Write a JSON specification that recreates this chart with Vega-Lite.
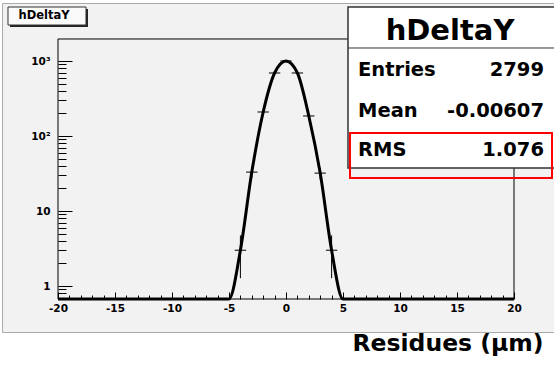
{
  "$schema": "https://vega.github.io/schema/vega-lite/v6.json",
  "width": 552,
  "height": 329,
  "autosize": {"type": "none"},
  "padding": {"left": 2, "top": 3, "right": 0, "bottom": 38},
  "background": "white",
  "config": {
    "view": {"fill": "#f2f2f2", "stroke": "#aaaaaa", "strokeWidth": 1},
    "text": {"font": "DejaVu Sans", "fontWeight": "bold", "color": "black"}
  },
  "resolve": {"axis": {"x": "independent", "y": "independent"}},
  "data": {
    "values": [
      {"x": -20, "count": 0}, {"x": -19, "count": 0}, {"x": -18, "count": 0}, {"x": -17, "count": 0},
      {"x": -16, "count": 0}, {"x": -15, "count": 0}, {"x": -14, "count": 0}, {"x": -13, "count": 0},
      {"x": -12, "count": 0}, {"x": -11, "count": 0}, {"x": -10, "count": 0}, {"x": -9, "count": 0},
      {"x": -8, "count": 0}, {"x": -7, "count": 0}, {"x": -6, "count": 0}, {"x": -5, "count": 0},
      {"x": -4, "x0": -4.5, "x1": -3.5, "count": 3, "lo": 1.27, "hi": 4.73},
      {"x": -3, "x0": -3.5, "x1": -2.5, "count": 33, "lo": 27.3, "hi": 38.7},
      {"x": -2, "x0": -2.5, "x1": -1.5, "count": 209, "lo": 194.5, "hi": 223.5},
      {"x": -1, "x0": -1.5, "x1": -0.5, "count": 692, "lo": 666, "hi": 718},
      {"x": 0, "x0": -0.5, "x1": 0.5, "count": 1000, "lo": 968, "hi": 1032},
      {"x": 1, "x0": 0.5, "x1": 1.5, "count": 692, "lo": 666, "hi": 718},
      {"x": 2, "x0": 1.5, "x1": 2.5, "count": 185, "lo": 171.4, "hi": 198.6},
      {"x": 3, "x0": 2.5, "x1": 3.5, "count": 32, "lo": 26.3, "hi": 37.7},
      {"x": 4, "x0": 3.5, "x1": 4.5, "count": 3, "lo": 1.27, "hi": 4.73},
      {"x": 5, "count": 0}, {"x": 6, "count": 0}, {"x": 7, "count": 0}, {"x": 8, "count": 0},
      {"x": 9, "count": 0}, {"x": 10, "count": 0}, {"x": 11, "count": 0}, {"x": 12, "count": 0},
      {"x": 13, "count": 0}, {"x": 14, "count": 0}, {"x": 15, "count": 0}, {"x": 16, "count": 0},
      {"x": 17, "count": 0}, {"x": 18, "count": 0}, {"x": 19, "count": 0}, {"x": 20, "count": 0}
    ]
  },
  "layer": [
    {
      "mark": {"type": "line", "interpolate": "monotone", "stroke": "black", "strokeWidth": 3, "invalid": "show"},
      "encoding": {
        "x": {
          "field": "x", "type": "quantitative",
          "scale": {"domain": [-20, 20], "range": [56, 512], "nice": false, "zero": false},
          "axis": {
            "orient": "bottom", "offset": -33,
            "values": [-20,-19,-18,-17,-16,-15,-14,-13,-12,-11,-10,-9,-8,-7,-6,-5,-4,-3,-2,-1,0,1,2,3,4,5,6,7,8,9,10,11,12,13,14,15,16,17,18,19,20],
            "labelExpr": "datum.value % 5 === 0 ? '' + datum.value : ''",
            "tickSize": {"condition": {"test": "datum.value % 5 === 0", "value": -7}, "value": -4},
            "tickColor": "black", "tickWidth": 1, "domain": false, "grid": false,
            "labelFont": "DejaVu Sans", "labelFontWeight": "bold", "labelFontSize": 10.5, "labelColor": "black",
            "labelPadding": 11, "labelFlush": false, "labelOverlap": false, "labelBound": false,
            "title": "Residues (µm)", "titleFont": "DejaVu Sans", "titleFontWeight": "bold", "titleFontSize": 23.5,
            "titleColor": "black", "titleX": 350, "titleY": 51, "titleAlign": "left", "titleBaseline": "alphabetic"
          }
        },
        "y": {
          "field": "count", "type": "quantitative",
          "scale": {"type": "log", "domain": [0.671, 5934], "range": [296, 0], "nice": false, "clamp": true},
          "axis": {
            "orient": "left", "offset": -56,
            "values": [0.7,0.8,0.9,1,2,3,4,5,6,7,8,9,10,20,30,40,50,60,70,80,90,100,200,300,400,500,600,700,800,900,1000],
            "labelExpr": "datum.value === 1 ? '1' : datum.value === 10 ? '10' : datum.value === 100 ? '10²' : datum.value === 1000 ? '10³' : ''",
            "tickSize": {"condition": {"test": "datum.value === 1 || datum.value === 10 || datum.value === 100 || datum.value === 1000", "value": -14}, "value": -8},
            "tickColor": "black", "tickWidth": 1, "domain": false, "grid": false,
            "labelFont": "DejaVu Sans", "labelFontWeight": "bold", "labelFontSize": 10.5, "labelColor": "black",
            "labelPadding": 22, "labelFlush": false, "labelOverlap": false, "labelBound": false,
            "title": null
          }
        }
      }
    },
    {
      "data": {"values": [{}]},
      "mark": {"type": "rect", "fillOpacity": 0, "stroke": "black", "strokeWidth": 1},
      "encoding": {
        "x": {"datum": -20, "type": "quantitative", "axis": null},
        "x2": {"datum": 20},
        "y": {"datum": 0.671, "type": "quantitative", "axis": null},
        "y2": {"datum": 1965}
      }
    },
    {
      "transform": [{"filter": "datum.count > 0"}],
      "mark": {"type": "rule", "stroke": "black", "strokeWidth": 1},
      "encoding": {
        "x": {"field": "x0", "type": "quantitative", "axis": null},
        "x2": {"field": "x1"},
        "y": {"field": "count", "type": "quantitative", "axis": null}
      }
    },
    {
      "transform": [{"filter": "datum.count > 0"}],
      "mark": {"type": "rule", "stroke": "black", "strokeWidth": 1},
      "encoding": {
        "x": {"field": "x", "type": "quantitative", "axis": null},
        "y": {"field": "lo", "type": "quantitative", "axis": null},
        "y2": {"field": "hi"}
      }
    },
    {
      "data": {"values": [{}]},
      "mark": {"type": "rect", "fill": "#222222"},
      "encoding": {
        "x": {"datum": -24.21, "type": "quantitative", "axis": null},
        "x2": {"datum": -17.37},
        "y": {"datum": 4935, "type": "quantitative", "axis": null},
        "y2": {"datum": 2840}
      }
    },
    {
      "data": {"values": [{}]},
      "mark": {"type": "rect", "fill": "#fafafa", "stroke": "#333333", "strokeWidth": 1},
      "encoding": {
        "x": {"datum": -24.386, "type": "quantitative", "axis": null},
        "x2": {"datum": -17.544},
        "y": {"datum": 5248, "type": "quantitative", "axis": null},
        "y2": {"datum": 3020}
      }
    },
    {
      "data": {"values": [{}]},
      "mark": {"type": "text", "fontSize": 11.5, "align": "center", "baseline": "middle"},
      "encoding": {
        "x": {"datum": -21.23, "type": "quantitative", "axis": null},
        "y": {"datum": 3981, "type": "quantitative", "axis": null},
        "text": {"value": "hDeltaY"}
      }
    },
    {
      "data": {"values": [{}]},
      "mark": {"type": "rect", "fill": "white", "stroke": "#333333", "strokeWidth": 1.5},
      "encoding": {
        "x": {"datum": 5.439, "type": "quantitative", "axis": null},
        "x2": {"datum": 24.04},
        "y": {"datum": 5248, "type": "quantitative", "axis": null},
        "y2": {"datum": 37.44}
      }
    },
    {
      "data": {"values": [{}]},
      "mark": {"type": "rule", "stroke": "#333333", "strokeWidth": 1},
      "encoding": {
        "x": {"datum": 5.439, "type": "quantitative", "axis": null},
        "x2": {"datum": 24.04},
        "y": {"datum": 1490.6, "type": "quantitative", "axis": null}
      }
    },
    {
      "data": {"values": [{}]},
      "mark": {"type": "text", "fontSize": 29, "align": "center", "baseline": "middle"},
      "encoding": {
        "x": {"datum": 14.386, "type": "quantitative", "axis": null},
        "y": {"datum": 2512, "type": "quantitative", "axis": null},
        "text": {"value": "hDeltaY"}
      }
    },
    {
      "data": {"values": [{"stat": "Entries", "val": "2799", "py": 758.6}, {"stat": "Mean", "val": "-0.00607", "py": 215.4}, {"stat": "RMS", "val": "1.076", "py": 65.08}]},
      "layer": [
        {
          "mark": {"type": "text", "fontSize": 19.5, "align": "left", "baseline": "middle"},
          "encoding": {
            "x": {"datum": 6.316, "type": "quantitative", "axis": null},
            "y": {"field": "py", "type": "quantitative", "axis": null},
            "text": {"field": "stat"}
          }
        },
        {
          "mark": {"type": "text", "fontSize": 19.5, "align": "right", "baseline": "middle"},
          "encoding": {
            "x": {"datum": 22.63, "type": "quantitative", "axis": null},
            "y": {"field": "py", "type": "quantitative", "axis": null},
            "text": {"field": "val"}
          }
        }
      ]
    },
    {
      "data": {"values": [{}]},
      "mark": {"type": "rect", "fillOpacity": 0, "stroke": "#ff0000", "strokeWidth": 2},
      "encoding": {
        "x": {"datum": 5.614, "type": "quantitative", "axis": null},
        "x2": {"datum": 23.333},
        "y": {"datum": 109.6, "type": "quantitative", "axis": null},
        "y2": {"datum": 27.54}
      }
    }
  ]
}
